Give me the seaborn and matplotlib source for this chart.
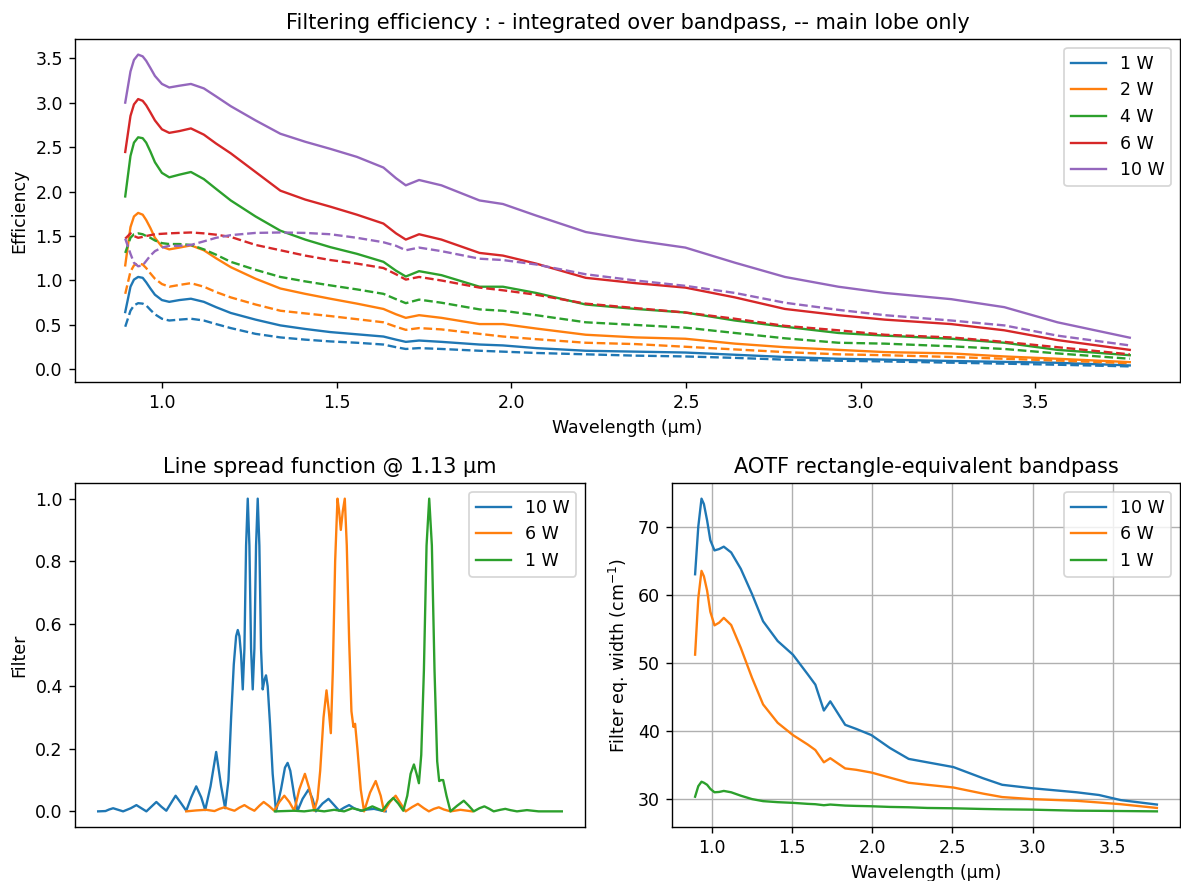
import numpy as np
import pandas as pd
import matplotlib
matplotlib.use("Agg")
import matplotlib.pyplot as plt
import seaborn as sns

# ---- top panel: filtering efficiency ----
wl = [0.895, 0.91, 0.92, 0.932, 0.945, 0.955, 0.967, 0.98, 1.0, 1.021, 1.05, 1.083,
      1.12, 1.155, 1.197, 1.268, 1.339, 1.41, 1.482, 1.558, 1.634, 1.67, 1.698, 1.736,
      1.8, 1.909, 1.976, 2.071, 2.213, 2.356, 2.498, 2.64, 2.783, 2.936, 3.069, 3.259,
      3.411, 3.563, 3.77]

powers = ["1 W", "2 W", "4 W", "6 W", "10 W"]

# integrated over bandpass (solid)
eff_1w = [0.645, 0.93, 1.01, 1.04, 1.03, 0.98, 0.91, 0.84, 0.78, 0.76, 0.78, 0.795,
          0.76, 0.70, 0.635, 0.56, 0.495, 0.455, 0.42, 0.395, 0.37, 0.335, 0.31, 0.325,
          0.31, 0.28, 0.27, 0.24, 0.21, 0.20, 0.19, 0.165, 0.14, 0.12, 0.11, 0.095,
          0.085, 0.075, 0.045]
eff_2w = [1.17, 1.60, 1.72, 1.76, 1.74, 1.68, 1.59, 1.48, 1.38, 1.35, 1.37, 1.395,
          1.34, 1.25, 1.15, 1.02, 0.91, 0.85, 0.795, 0.74, 0.68, 0.62, 0.58, 0.61,
          0.58, 0.51, 0.51, 0.46, 0.39, 0.36, 0.345, 0.29, 0.25, 0.22, 0.195, 0.18,
          0.146, 0.12, 0.082]
eff_4w = [1.945, 2.40, 2.55, 2.61, 2.60, 2.55, 2.45, 2.33, 2.21, 2.16, 2.19, 2.22,
          2.14, 2.03, 1.90, 1.72, 1.56, 1.46, 1.375, 1.30, 1.21, 1.11, 1.045, 1.105,
          1.06, 0.93, 0.93, 0.86, 0.73, 0.68, 0.64, 0.55, 0.48, 0.41, 0.38, 0.345,
          0.30, 0.22, 0.16]
eff_6w = [2.445, 2.85, 2.98, 3.04, 3.02, 2.97, 2.89, 2.80, 2.70, 2.66, 2.68, 2.71,
          2.64, 2.54, 2.43, 2.22, 2.01, 1.91, 1.83, 1.74, 1.64, 1.53, 1.46, 1.52,
          1.46, 1.31, 1.28, 1.19, 1.03, 0.97, 0.92, 0.81, 0.68, 0.61, 0.56, 0.51,
          0.44, 0.33, 0.22]
eff_10w = [3.00, 3.35, 3.48, 3.54, 3.52, 3.47, 3.39, 3.30, 3.21, 3.17, 3.19, 3.21,
           3.16, 3.07, 2.96, 2.80, 2.65, 2.56, 2.48, 2.39, 2.27, 2.15, 2.07, 2.13,
           2.07, 1.90, 1.86, 1.73, 1.545, 1.45, 1.37, 1.20, 1.04, 0.93, 0.86, 0.79,
           0.70, 0.53, 0.357]

# main lobe only (dashed)
lobe_1w = [0.48, 0.66, 0.72, 0.745, 0.74, 0.72, 0.67, 0.62, 0.57, 0.55, 0.56, 0.57,
           0.55, 0.51, 0.465, 0.40, 0.36, 0.335, 0.315, 0.30, 0.28, 0.25, 0.23, 0.24,
           0.23, 0.21, 0.20, 0.185, 0.17, 0.155, 0.146, 0.13, 0.11, 0.098, 0.09, 0.076,
           0.065, 0.053, 0.034]
lobe_2w = [0.85, 1.10, 1.17, 1.19, 1.18, 1.14, 1.08, 1.02, 0.96, 0.93, 0.95, 0.97,
           0.93, 0.87, 0.81, 0.73, 0.66, 0.63, 0.60, 0.565, 0.53, 0.48, 0.445, 0.465,
           0.45, 0.40, 0.37, 0.34, 0.30, 0.285, 0.255, 0.225, 0.195, 0.17, 0.16, 0.14,
           0.12, 0.10, 0.07]
lobe_4w = [1.31, 1.48, 1.52, 1.53, 1.52, 1.50, 1.48, 1.45, 1.42, 1.41, 1.41, 1.40,
           1.35, 1.29, 1.21, 1.12, 1.04, 0.99, 0.945, 0.90, 0.85, 0.79, 0.745, 0.785,
           0.75, 0.675, 0.66, 0.61, 0.53, 0.50, 0.47, 0.41, 0.35, 0.30, 0.29, 0.26,
           0.23, 0.18, 0.12]
lobe_6w = [1.47, 1.53, 1.50, 1.48, 1.49, 1.50, 1.51, 1.52, 1.525, 1.53, 1.535, 1.54,
           1.53, 1.515, 1.49, 1.40, 1.34, 1.28, 1.23, 1.19, 1.14, 1.07, 1.01, 1.04,
           1.00, 0.92, 0.89, 0.84, 0.74, 0.69, 0.64, 0.57, 0.49, 0.44, 0.39, 0.36,
           0.31, 0.25, 0.17]
lobe_10w = [1.47, 1.30, 1.20, 1.16, 1.17, 1.22, 1.28, 1.33, 1.37, 1.39, 1.39, 1.40,
            1.44, 1.48, 1.51, 1.535, 1.54, 1.535, 1.52, 1.48, 1.43, 1.39, 1.34, 1.37,
            1.33, 1.245, 1.23, 1.18, 1.07, 1.00, 0.94, 0.86, 0.75, 0.67, 0.61, 0.55,
            0.495, 0.38, 0.27]

# ---- bottom left: line spread function @ 1.13 um (relative wavenumber) ----
lsf10_x = [5.0, 7.2, 8.3, 9.5, 10.7, 12.5, 14.8, 16.5, 18.0, 19.5, 21.0, 22.5, 24.0,
           25.5, 27.0, 28.3, 29.8, 31.5, 33.0, 34.5, 36.0, 37.2, 38.8, 40.5, 42.0,
           43.2, 44.2, 45.0, 45.8, 46.5, 47.0, 47.5, 48.0, 48.5, 49.0, 49.5, 50.0,
           50.5, 51.0, 51.5, 52.0, 52.5, 53.0, 53.5, 54.0, 54.5, 55.0, 55.5, 56.0,
           56.7, 57.5, 58.5, 60.0, 61.2, 62.0, 62.8, 64.0, 65.0, 66.5, 68.3, 69.5,
           70.5, 72.5, 74.3, 76.0, 77.5, 79.0, 80.5, 82.0, 84.0, 86.0, 88.0, 90.0,
           91.5]
lsf10_y = [0.0, 0.001, 0.006, 0.01, 0.006, 0.0, 0.01, 0.02, 0.01, 0.0, 0.015, 0.03,
           0.015, 0.002, 0.028, 0.05, 0.028, 0.002, 0.045, 0.08, 0.045, 0.004, 0.08,
           0.19, 0.08, 0.01, 0.10, 0.30, 0.47, 0.56, 0.58, 0.56, 0.50, 0.39, 0.52,
           0.85, 1.0, 0.85, 0.52, 0.39, 0.52, 0.85, 1.0, 0.85, 0.52, 0.39, 0.42,
           0.435, 0.40, 0.28, 0.12, 0.0, 0.07, 0.14, 0.155, 0.13, 0.05, 0.002, 0.04,
           0.07, 0.04, 0.0, 0.025, 0.04, 0.02, 0.002, 0.012, 0.02, 0.01, 0.002, 0.006,
           0.008, 0.003, 0.0]

lsf6_x = [31.5, 34.5, 37.5, 40.0, 41.5, 43.0, 44.5, 46.0, 47.5, 49.0, 50.5, 52.0,
          53.5, 54.8, 56.3, 58.0, 59.5, 61.0, 62.5, 64.0, 65.5, 67.2, 68.6, 70.0,
          71.0, 71.8, 72.8, 73.7, 74.4, 75.0, 75.6, 76.3, 77.0, 77.5, 78.0, 78.6,
          79.2, 79.8, 80.5, 81.2, 81.8, 82.3, 83.0, 84.0, 85.0, 86.8, 88.5, 90.0,
          91.0, 92.8, 94.5, 96.0, 97.5, 99.5, 101.2, 103.0, 104.5, 106.0, 107.5,
          109.0, 111.0, 114.0, 117.5]
lsf6_y = [0.0, 0.003, 0.005, 0.001, 0.008, 0.013, 0.007, 0.002, 0.012, 0.02, 0.01,
          0.002, 0.018, 0.03, 0.018, 0.002, 0.03, 0.05, 0.03, 0.002, 0.07, 0.12, 0.07,
          0.002, 0.04, 0.13, 0.30, 0.387, 0.32, 0.25, 0.45, 0.80, 1.0, 0.96, 0.90,
          0.96, 1.0, 0.85, 0.55, 0.32, 0.27, 0.28, 0.20, 0.07, 0.0, 0.06, 0.097, 0.05,
          0.0, 0.03, 0.05, 0.025, 0.0, 0.014, 0.024, 0.01, 0.0, 0.008, 0.013, 0.006,
          0.0, 0.005, 0.0]

lsf1_x = [58.2, 64.0, 67.0, 70.0, 73.0, 76.0, 79.0, 81.5, 84.5, 87.5, 90.5, 92.3,
          93.8, 95.3, 96.8, 98.0, 99.0, 100.0, 100.8, 101.5, 102.2, 103.0, 103.8,
          104.6, 105.4, 106.2, 107.0, 107.6, 108.2, 108.8, 109.8, 111.0, 113.0, 115.0,
          116.5, 118.0, 119.7, 121.2, 122.7, 124.0, 126.0, 127.5, 129.0, 131.0, 134.0,
          137.5, 144.5]
lsf1_y = [0.0, 0.002, 0.0, 0.004, 0.0, 0.005, 0.0, 0.01, 0.002, 0.016, 0.002, 0.028,
          0.043, 0.025, 0.002, 0.05, 0.12, 0.15, 0.12, 0.09, 0.18, 0.45, 0.85, 1.0,
          0.85, 0.45, 0.16, 0.097, 0.10, 0.10, 0.05, 0.0, 0.018, 0.034, 0.018, 0.0,
          0.01, 0.016, 0.008, 0.0, 0.005, 0.008, 0.004, 0.0, 0.004, 0.0, 0.0]

# ---- bottom right: rectangle-equivalent bandpass ----
wl_bp = [0.895, 0.915, 0.935, 0.95, 0.97, 0.99, 1.016, 1.045, 1.074, 1.12, 1.18, 1.25,
         1.319, 1.41, 1.505, 1.598, 1.645, 1.698, 1.738, 1.831, 1.90, 1.994, 2.11,
         2.227, 2.343, 2.506, 2.692, 2.81, 2.995, 3.274, 3.414, 3.55, 3.775]
bp_10w = [63.0, 70.0, 74.1, 73.3, 70.9, 68.0, 66.5, 66.7, 67.05, 66.2, 63.8, 60.1,
          56.1, 53.2, 51.2, 48.3, 46.8, 43.0, 44.35, 40.9, 40.3, 39.4, 37.5, 35.9,
          35.4, 34.7, 33.05, 32.1, 31.6, 31.0, 30.6, 29.85, 29.2]
bp_6w = [51.2, 59.5, 63.5, 62.7, 60.6, 57.5, 55.5, 55.9, 56.6, 55.55, 52.2, 47.8,
         43.9, 41.2, 39.4, 38.0, 37.2, 35.4, 36.0, 34.5, 34.3, 33.9, 33.15, 32.4,
         32.1, 31.7, 30.8, 30.3, 30.0, 29.75, 29.5, 29.25, 28.7]
bp_1w = [30.35, 31.9, 32.55, 32.4, 32.1, 31.5, 31.0, 31.05, 31.2, 31.0, 30.5, 30.0,
         29.7, 29.55, 29.45, 29.3, 29.25, 29.1, 29.2, 29.05, 29.0, 28.95, 28.85, 28.8,
         28.7, 28.65, 28.55, 28.5, 28.45, 28.3, 28.28, 28.25, 28.2]

colors = sns.color_palette("tab10")
lw = 1.35

DPI = 125
W, H = 1181, 881
fig = plt.figure(figsize=(W / DPI, H / DPI), dpi=DPI)
ax_top = fig.add_axes([75 / W, 1 - 382 / H, 1105 / W, 343 / H])
ax_lsf = fig.add_axes([75 / W, 1 - 827 / H, 510 / W, 344 / H])
ax_bp = fig.add_axes([672 / W, 1 - 827 / H, 508 / W, 344 / H])

# Top panel
solid = [eff_1w, eff_2w, eff_4w, eff_6w, eff_10w]
dashed = [lobe_1w, lobe_2w, lobe_4w, lobe_6w, lobe_10w]
for i, p in enumerate(powers):
    sns.lineplot(x=wl, y=solid[i], ax=ax_top, color=colors[i], label=p, lw=lw)
for i, p in enumerate(powers):
    sns.lineplot(x=wl, y=dashed[i], ax=ax_top, color=colors[i], linestyle="--",
                 lw=lw, legend=False)
ax_top.set_xlabel("Wavelength (µm)")
ax_top.set_ylabel("Efficiency")
ax_top.set_title("Filtering efficiency : - integrated over bandpass, -- main lobe only")
ax_top.legend(loc="upper right")

# Line spread function
sns.lineplot(x=lsf10_x, y=lsf10_y, ax=ax_lsf, color=colors[0], label="10 W", lw=lw)
sns.lineplot(x=lsf6_x, y=lsf6_y, ax=ax_lsf, color=colors[1], label="6 W", lw=lw)
sns.lineplot(x=lsf1_x, y=lsf1_y, ax=ax_lsf, color=colors[2], label="1 W", lw=lw)
ax_lsf.set_xticks([])
ax_lsf.set_ylabel("Filter")
ax_lsf.set_title("Line spread function @ 1.13 µm")
ax_lsf.legend(loc="upper right")

# Rectangle-equivalent bandpass
sns.lineplot(x=wl_bp, y=bp_10w, ax=ax_bp, color=colors[0], label="10 W", lw=lw)
sns.lineplot(x=wl_bp, y=bp_6w, ax=ax_bp, color=colors[1], label="6 W", lw=lw)
sns.lineplot(x=wl_bp, y=bp_1w, ax=ax_bp, color=colors[2], label="1 W", lw=lw)
ax_bp.grid(True)
ax_bp.set_xlabel("Wavelength (µm)")
ax_bp.set_ylabel("Filter eq. width (cm$^{-1}$)")
ax_bp.set_title("AOTF rectangle-equivalent bandpass")
ax_bp.legend(loc="upper right")

fig.savefig("out.png", dpi=DPI)
